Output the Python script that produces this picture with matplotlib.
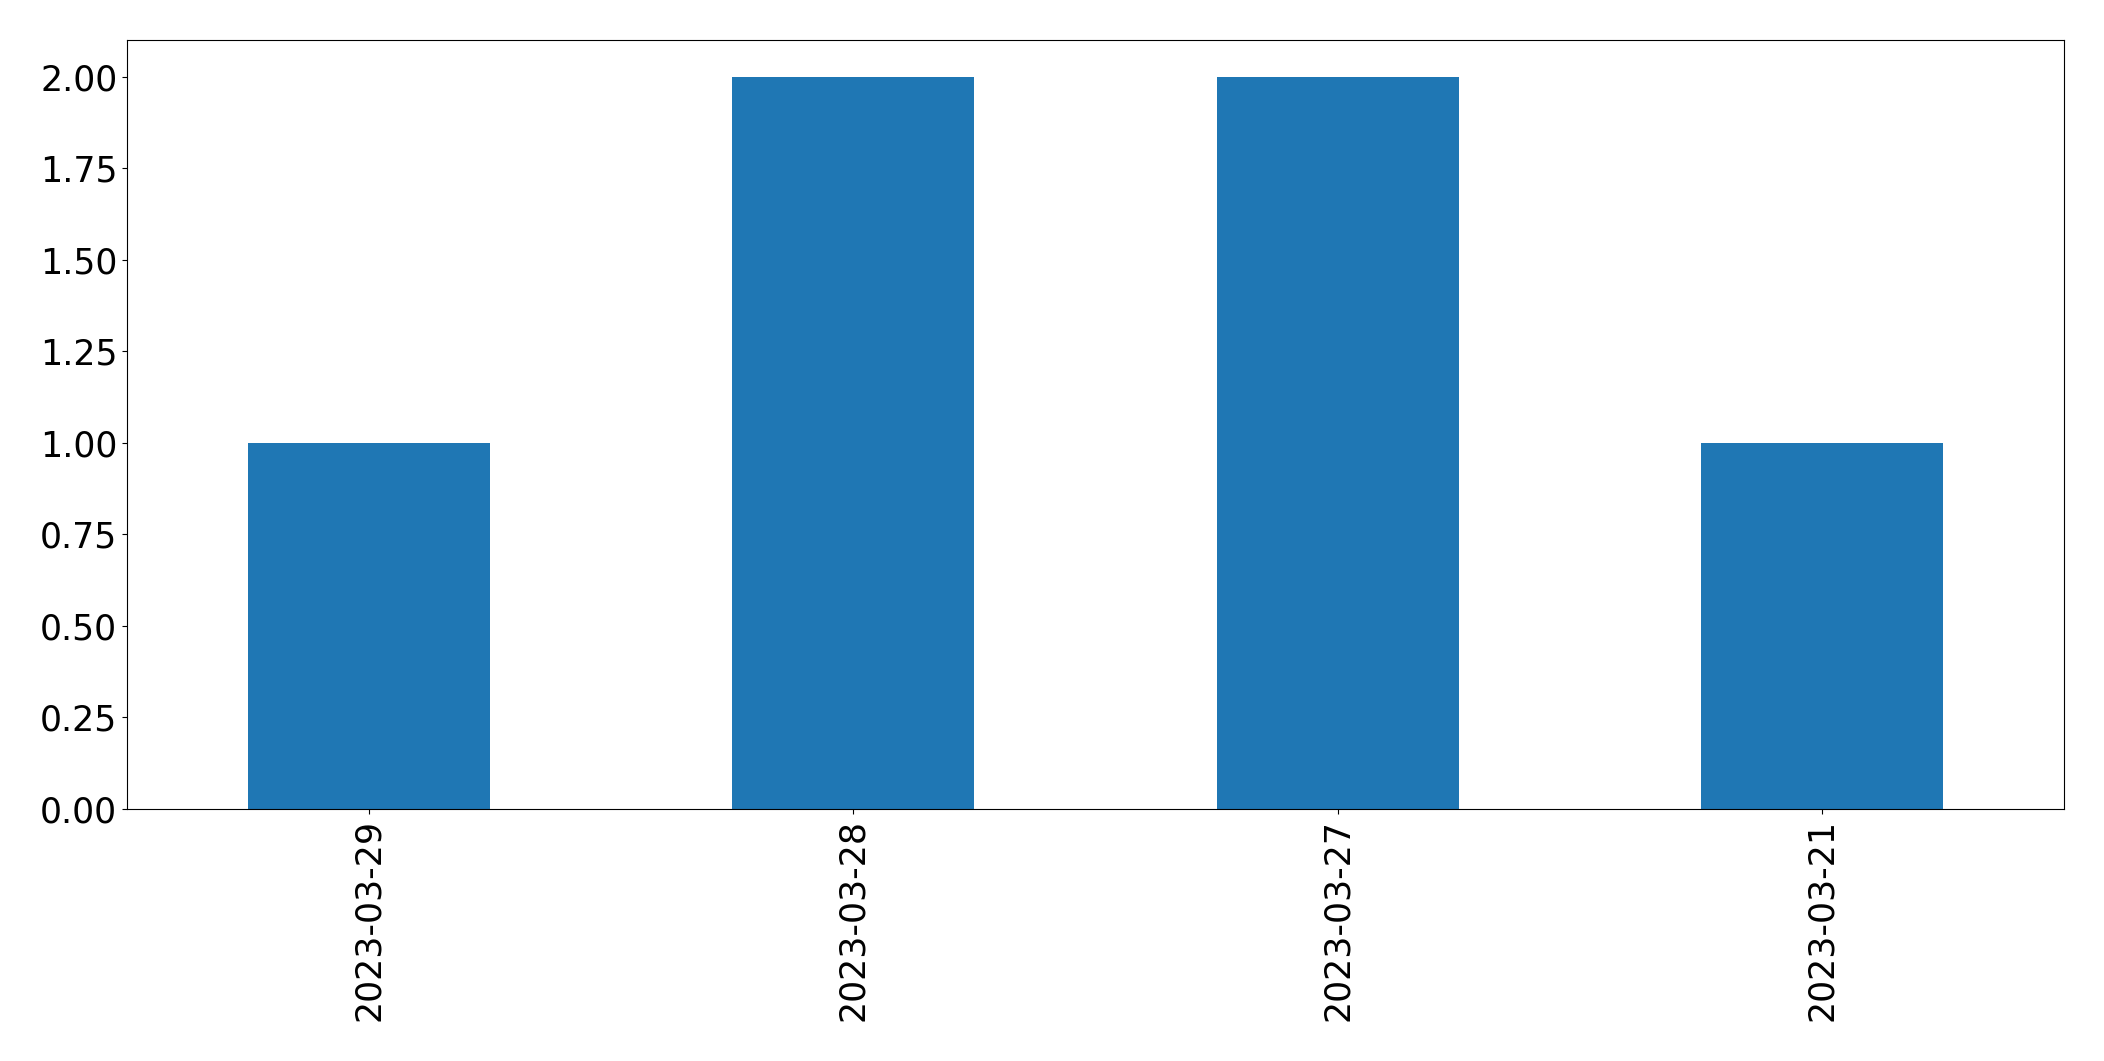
import matplotlib
matplotlib.use('Agg')
import matplotlib.pyplot as plt
import pandas as pd

dates = ['2023-03-29', '2023-03-28', '2023-03-27', '2023-03-21']
counts = [1, 2, 2, 1]

s = pd.Series(counts, index=dates)
fig = plt.figure(figsize=(21.04, 10.61), dpi=100)
ax = fig.add_axes([127/2104, 1 - 809/1061, (2064-127)/2104, (809-40)/1061])
s.plot(kind='bar', ax=ax, color='#1f77b4', fontsize=25)
ax.tick_params(labelsize=25)
plt.savefig('out.png', dpi=100)
